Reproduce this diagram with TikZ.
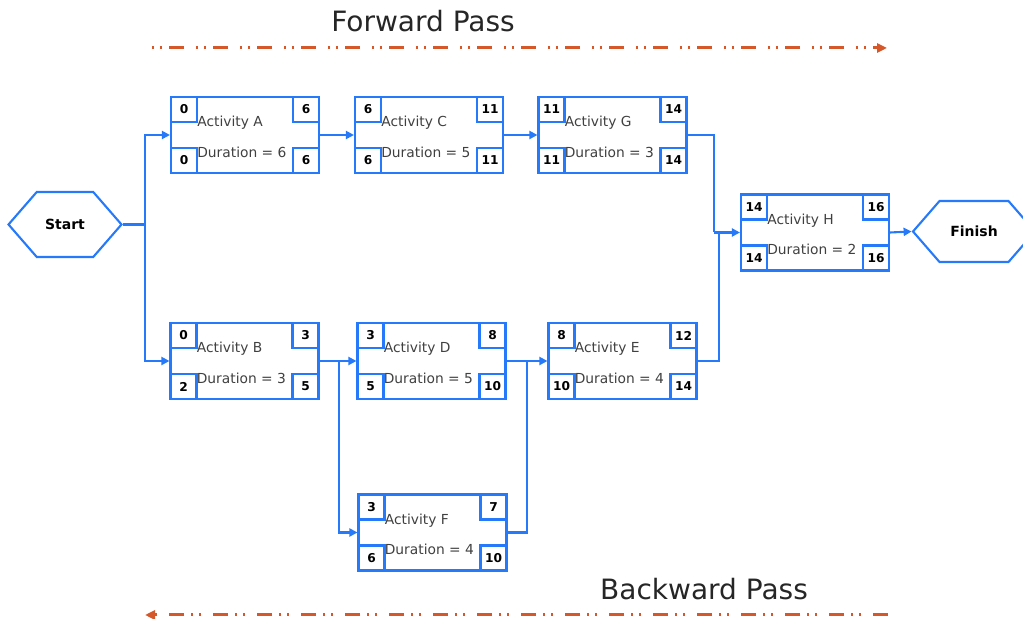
\documentclass[tikz,border=0pt]{standalone}
\usepackage{fontspec}
\setmainfont{DejaVu Sans}
\usetikzlibrary{arrows.meta}
\usetikzlibrary{shapes.symbols}

\definecolor{netblue}{RGB}{38,122,250}
\definecolor{passorange}{RGB}{212,88,42}
\definecolor{txtgray}{RGB}{64,64,64}

\begin{document}
\begin{tikzpicture}[x=0.5pt, y=-0.5pt,
act/.style={draw=netblue, line width=1.05pt, minimum width=74pt, minimum height=38pt, inner sep=0pt},
corner/.style={draw=netblue, line width=1.05pt, minimum width=13pt, minimum height=12.5pt, inner sep=0pt,
font=\fontsize{6.1}{7}\selectfont\bfseries},
acttext/.style={anchor=west, inner sep=0pt, text=txtgray, font=\fontsize{6.9}{8}\selectfont},
term/.style={draw=netblue, line width=1.05pt, shape=signal, signal to=west and east, signal pointer angle=98,
inner sep=0pt, font=\fontsize{7}{8}\selectfont\bfseries},
link/.style={netblue, line width=1.05pt},
flow/.style={link, -{Triangle[length=4pt,width=4pt]}},
title/.style={anchor=base, inner sep=0pt, text=black!85, font=\fontsize{14}{16}\selectfont},
pass/.style={passorange, line width=1.5pt, -{Triangle[length=5pt,width=4.5pt]}}]

\useasboundingbox (0,0) rectangle (1023,619);

% PASS ARROWS
\node[title] (fwd) at (423,32) {Forward Pass};
\coordinate (fwd-a) at (152,48);
\coordinate (fwd-b) at (887,48);
\draw[pass, dash pattern=on 1pt off 3pt on 1pt off 3.5pt on 7.5pt off 6pt] (fwd-a) -- (fwd-b);

\node[title] (bwd) at (704,600) {Backward Pass};
\coordinate (bwd-a) at (888,615);
\coordinate (bwd-b) at (145,615);
\draw[pass, dash pattern=on 7.5pt off 6pt on 1pt off 3pt on 1pt off 3.5pt] (bwd-a) -- (bwd-b);

% START / FINISH
\node[term, minimum width=56.5pt, minimum height=32.5pt] (start) at (65,224.5) {Start};
\node[term, minimum width=61pt, minimum height=30.5pt] (finish) at (974,231.5) {Finish};

% ACTIVITY BOXES
% name/x/y/ES/EF/LS/LF/duration
\foreach \n/\cx/\cy/\es/\ef/\ls/\lf/\d in {A/245/135/0/6/0/6/6, C/429/135/6/11/6/11/5,
G/612.5/135/11/14/11/14/3, B/244.5/361/0/3/2/5/3, D/431.5/361/3/8/5/10/5,
E/622.5/361/8/12/10/14/4, F/432.5/532.5/3/7/6/10/4, H/815/232.5/14/16/14/16/2}{
    \node[act] (\n) at (\cx,\cy) {};
    \node[corner, anchor=north west] (\n-es) at (\n.north west) {\es};
    \node[corner, anchor=north east] (\n-ef) at (\n.north east) {\ef};
    \node[corner, anchor=south west] (\n-ls) at (\n.south west) {\ls};
    \node[corner, anchor=south east] (\n-lf) at (\n.south east) {\lf};
    \node[acttext] (\n-name) at ([shift={(27,27)}]\n.north west) {Activity \n};
    \node[acttext] (\n-dur) at ([shift={(27,56)}]\n.north west) {Duration = \d};
}

% CONNECTORS
\coordinate (s1) at (145,224.5);
\coordinate (b1) at (339,361);
\coordinate (f1) at (527,361);
\coordinate (g1) at (714,232.5);
\coordinate (e1) at (719,232.5);

\draw[link] (start.east) -- (s1);
\draw[flow] (s1) |- (A.west);
\draw[flow] (s1) |- (B.west);
\draw[flow] (A.east) -- (C.west);
\draw[flow] (C.east) -- (G.west);
\draw[flow] (B.east) -- (D.west);
\draw[flow] (b1) |- (F.west);
\draw[flow] (D.east) -- (E.west);
\draw[link] (F.east) -| (f1);
\draw[link] (G.east) -| (g1);
\draw[flow] (g1) -- (H.west);
\draw[link] (E.east) -| (e1);
\draw[flow] (H.east) -- (finish.west);

\end{tikzpicture}
\end{document}
